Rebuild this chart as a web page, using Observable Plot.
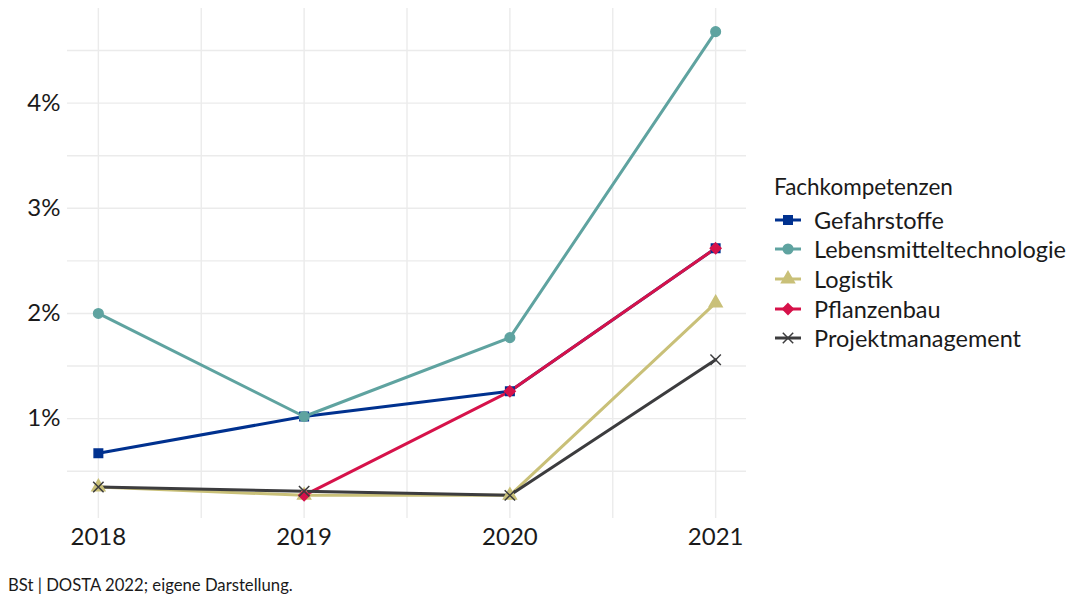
<!DOCTYPE html>
<html>
<head>
<meta charset="utf-8">
<script src="https://cdn.jsdelivr.net/npm/d3@7"></script>
<script src="https://cdn.jsdelivr.net/npm/@observablehq/plot@0.6"></script>
<style>
  body { margin: 0; background: #fff; font-family: Lato, "Noto Sans", sans-serif; color: #1a1a1a; }
  #wrap { position: relative; width: 1076px; height: 596px; overflow: hidden; }
  #legend { position: absolute; left: 774px; top: 170px; font-size: 23.5px; white-space: nowrap; }
  #legend .title { height: 35px; line-height: 33px; font-size: 22.5px; }
  #legend .item { display: flex; align-items: center; height: 29.6px; }
  #legend svg { margin-right: 12px; }
  #caption { position: absolute; left: 8px; top: 575px; font-size: 16.7px; white-space: nowrap; }
</style>
</head>
<body>
<div id="wrap">
  <div id="chart"></div>
  <div id="legend"></div>
  <div id="caption">BSt | DOSTA 2022; eigene Darstellung.</div>
</div>
<script>
const years = [2018, 2019, 2020, 2021];
const seriesNames = ["Gefahrstoffe", "Lebensmitteltechnologie", "Logistik", "Pflanzenbau", "Projektmanagement"];
const colors = ["#00318f", "#5fa3a0", "#c9c078", "#d6124a", "#3c3c3e"];
const symbols = ["square", "circle", "triangle", "diamond2", "times"];
const yTicks = [1, 2, 3, 4];
const legendTitle = "Fachkompetenzen";

// values in percent
const gefahrstoffe = [0.67, 1.02, 1.26, 2.62];
const lebensmitteltechnologie = [2.00, 1.02, 1.77, 4.68];
const logistik = [0.35, 0.27, 0.27, 2.10];
const pflanzenbau = [null, 0.27, 1.26, 2.62];
const projektmanagement = [0.35, 0.31, 0.27, 1.56];

const valueSets = [gefahrstoffe, lebensmitteltechnologie, logistik, pflanzenbau, projektmanagement];
const data = [];
seriesNames.forEach((s, i) => {
  years.forEach((y, j) => {
    const v = valueSets[i][j];
    if (v != null) data.push({series: s, year: y, value: v});
  });
});

const gridX = d3.range(2018, 2021.01, 0.5);
const gridY = d3.range(0.5, 4.51, 0.5);

const chart = Plot.plot({
  width: 1076,
  height: 562,
  marginLeft: 67,
  marginRight: 330,
  marginTop: 8,
  marginBottom: 44,
  style: {fontFamily: "Lato, 'Noto Sans', sans-serif", fontSize: "24px", color: "#1a1a1a", background: "#fff", overflow: "visible"},
  x: {domain: [2017.85, 2021.15], label: null},
  y: {domain: [0.05, 4.9], label: null},
  color: {domain: seriesNames, range: colors},
  symbol: {domain: seriesNames, range: symbols},
  marks: [
    Plot.gridX(gridX, {stroke: "#ebebeb", strokeOpacity: 1, strokeWidth: 1.4}),
    Plot.gridY(gridY, {stroke: "#ebebeb", strokeOpacity: 1, strokeWidth: 1.4}),
    Plot.axisX(years, {tickSize: 0, tickPadding: 9, tickFormat: d => String(d), fontSize: 24, label: null}),
    Plot.axisY(yTicks, {tickSize: 0, tickPadding: 7, tickFormat: d => d + "%", fontSize: 24, label: null}),
    Plot.line(data, {x: "year", y: "value", z: "series", stroke: "series", strokeWidth: 3}),
    Plot.dot(data, {x: "year", y: "value", symbol: "series", fill: "series", stroke: "series", strokeWidth: 1.5, r: 4.8})
  ]
});
document.getElementById("chart").appendChild(chart);

// legend
const legend = d3.select("#legend");
legend.append("div").attr("class", "title").text(legendTitle);
const symMap = {square: d3.symbolSquare, circle: d3.symbolCircle, triangle: d3.symbolTriangle, diamond2: d3.symbolDiamond2, times: d3.symbolTimes};
seriesNames.forEach((s, i) => {
  const item = legend.append("div").attr("class", "item");
  const svg = item.append("svg").attr("width", 28).attr("height", 20);
  svg.append("line").attr("x1", 1).attr("x2", 27).attr("y1", 10).attr("y2", 10)
    .attr("stroke", colors[i]).attr("stroke-width", 3);
  svg.append("path").attr("transform", "translate(14,10)")
    .attr("d", d3.symbol(symMap[symbols[i]], Math.PI * 4.8 * 4.8)())
    .attr("fill", colors[i]).attr("stroke", colors[i]).attr("stroke-width", 1.5);
  item.append("span").text(s);
});
</script>
</body>
</html>
